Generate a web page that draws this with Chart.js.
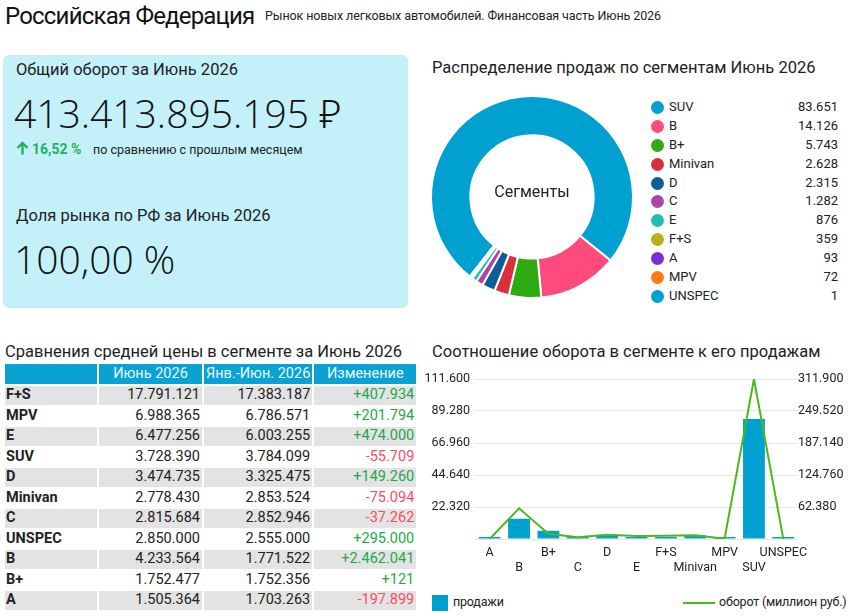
<!DOCTYPE html>
<html lang="ru">
<head>
<meta charset="utf-8">
<title>Российская Федерация — финансовая часть</title>
<script src="https://cdn.jsdelivr.net/npm/chart.js@4/dist/chart.umd.min.js"></script>
<style>
    html, body { margin: 0; padding: 0; background: #fff; }
    body { width: 850px; height: 616px; position: relative; overflow: hidden;
           font-family: Roboto, "Noto Sans", sans-serif; color: #222; }
    .abs { position: absolute; white-space: nowrap; }
    .h1 { left: 5px; top: 1px; font-size: 24px; line-height: 30px; color: #111; letter-spacing: -0.8px; }
    .sub { left: 265px; top: 7px; font-size: 12.5px; line-height: 18px; color: #222; letter-spacing: -0.1px; }
    .card { left: 3px; top: 55px; width: 405px; height: 253px; background: #c4f1f9; border-radius: 6px; }
    .ttl { font-size: 16.5px; line-height: 22px; color: #222; }
    .big { font-family: "Open Sans", "Noto Sans", sans-serif; font-size: 39px; font-weight: 300; line-height: 48px; color: #111; }
    .up { color: #1fb35a; font-weight: 700; font-size: 14px; }
    .cmp { font-size: 12.5px; color: #222; }
    #legend { left: 650px; top: 98px; width: 190px; }
    #legend .row { position: relative; height: 18.9px; font-size: 13px; line-height: 18.9px; }
    #legend .dot { position: absolute; left: 1px; top: 3px; width: 13px; height: 13px; border-radius: 50%; }
    #legend .lbl { position: absolute; left: 19px; }
    #legend .val { position: absolute; right: 2px; }
    table { border-collapse: separate; border-spacing: 2px 2px; font-size: 14.5px; }
    td, th { padding: 0 2px; }
    th { height: 20px; line-height: 20px; background: #0aa2d3; color: #e8fbff; font-weight: 400; text-align: center; }
    td { height: 18.5px; line-height: 18.5px; text-align: right; }
    td.seg { text-align: left; font-weight: 700; padding-left: 1px; }
    tr.odd td { background: #e3e3e3; }
    .pos { color: #1fa84b; }
    .neg { color: #ff4d63; }
    .lg { font-size: 12.5px; color: #222; letter-spacing: -0.2px; }
</style>
</head>
<body>
<div class="abs h1">Российская Федерация</div>
<div class="abs sub">Рынок новых легковых автомобилей. Финансовая часть Июнь 2026</div>

<div class="abs card"></div>
<div class="abs ttl" style="left:16px; top:59px;">Общий оборот за Июнь 2026</div>
<div class="abs big" style="left:14px; top:89px;">413.413.895.195 ₽</div>
<svg class="abs" style="left:16px; top:141px;" width="13" height="14" viewBox="0 0 13 14">
    <path d="M6.5 13.5 V2.5 M1.5 7 L6.5 2 L11.5 7" fill="none" stroke="#1fb35a" stroke-width="2.4"/>
</svg>
<div class="abs up" style="left:32px; top:139px; line-height:20px;">16,52 %</div>
<div class="abs cmp" style="left:93px; top:140px; line-height:20px;">по сравнению с прошлым месяцем</div>
<div class="abs ttl" style="left:16px; top:205px;">Доля рынка по РФ за Июнь 2026</div>
<div class="abs big" style="left:14px; top:235px;">100,00 %</div>

<div class="abs ttl" style="left:432px; top:57px;">Распределение продаж по сегментам Июнь 2026</div>
<div class="abs" style="left:417px; top:90px; width:230px; height:214px;"><canvas id="chart-donut"></canvas></div>
<div class="abs" id="legend"></div>

<div class="abs ttl" style="left:5px; top:341px;">Сравнения средней цены в сегменте за Июнь 2026</div>
<div class="abs" style="left:3px; top:362px;"><table id="prices"></table></div>

<div class="abs ttl" style="left:432px; top:341px;">Соотношение оборота в сегменте к его продажам</div>
<div class="abs" style="left:420px; top:365px; width:430px; height:215px;"><canvas id="chart-combo"></canvas></div>
<div class="abs" style="left:432px; top:595px; width:16px; height:16px; background:#00a0d0;"></div>
<div class="abs lg" style="left:453px; top:594px;">продажи</div>
<div class="abs" style="left:683px; top:602px; width:32px; height:2px; background:#4cb81c;"></div>
<div class="abs lg" style="left:719px; top:594px;">оборот (миллион руб.)</div>

<script>
(function () {
    'use strict';

    // Продажи по сегментам (порядок легенды кольца)
    const segments = ['SUV', 'B', 'B+', 'Minivan', 'D', 'C', 'E', 'F+S', 'A', 'MPV', 'UNSPEC'];
    const sales    = [83651, 14126, 5743, 2628, 2315, 1282, 876, 359, 93, 72, 1];
    const segColors = ['#00a0d0', '#fe4a7c', '#2eaa12', '#d8303a', '#0f5c96', '#ae45a6',
                       '#1fc0b0', '#b4b21c', '#7a30d0', '#ff7a12', '#00a0d0'];

    // Комбинированный график: продажи (шт.) и оборот (млн руб.)
    const comboCats     = ['A', 'B', 'B+', 'C', 'D', 'E', 'F+S', 'Minivan', 'MPV', 'SUV', 'UNSPEC'];
    const comboSales    = [93, 14126, 5743, 1282, 2315, 876, 359, 2628, 72, 83651, 1];
    const comboTurnover = [140, 59803, 10064, 3610, 8044, 5674, 6387, 7302, 503, 311884, 3];
    const leftMax = 111600, leftStep = 22320;
    const rightMax = 311900, rightStep = 62380;

    // Таблица средних цен
    const tableSegs   = ['F+S', 'MPV', 'E', 'SUV', 'D', 'Minivan', 'C', 'UNSPEC', 'B', 'B+', 'A'];
    const priceJun    = [17791121, 6988365, 6477256, 3728390, 3474735, 2778430, 2815684, 2850000, 4233564, 1752477, 1505364];
    const priceYtd    = [17383187, 6786571, 6003255, 3784099, 3325475, 2853524, 2852946, 2555000, 1771522, 1752356, 1703263];
    const priceChange = [407934, 201794, 474000, -55709, 149260, -75094, -37262, 295000, 2462041, 121, -197899];
    const tableHead   = ['', 'Июнь 2026', 'Янв.-Июн. 2026', 'Изменение'];

    function fmt(n) {
        return String(Math.abs(Math.round(n))).replace(/\B(?=(\d{3})+(?!\d))/g, '.');
    }

    const font = 'Roboto, "Noto Sans", sans-serif';
    Chart.defaults.font.family = font;
    Chart.defaults.color = '#333';

    // Легенда кольца
    const legend = document.getElementById('legend');
    segments.forEach(function (s, i) {
        const row = document.createElement('div');
        row.className = 'row';
        row.innerHTML = '<span class="dot" style="background:' + segColors[i] + '"></span>' +
            '<span class="lbl">' + s + '</span><span class="val">' + fmt(sales[i]) + '</span>';
        legend.appendChild(row);
    });

    // Таблица
    const table = document.getElementById('prices');
    const widths = [88, 99, 98, 98];
    let html = '<tr>' + tableHead.map(function (h, i) {
        return '<th style="width:' + widths[i] + 'px">' + h + '</th>';
    }).join('') + '</tr>';
    tableSegs.forEach(function (s, i) {
        const ch = priceChange[i];
        html += '<tr class="' + (i % 2 === 0 ? 'odd' : '') + '">' +
            '<td class="seg">' + s + '</td>' +
            '<td>' + fmt(priceJun[i]) + '</td>' +
            '<td>' + fmt(priceYtd[i]) + '</td>' +
            '<td class="' + (ch >= 0 ? 'pos' : 'neg') + '">' + (ch >= 0 ? '+' : '-') + fmt(ch) + '</td></tr>';
    });
    table.innerHTML = html;

    // Подпись в центре кольца
    const centerText = {
        id: 'centerText',
        afterDraw: function (chart) {
            const a = chart.chartArea;
            const ctx = chart.ctx;
            ctx.save();
            ctx.font = '16px ' + font;
            ctx.fillStyle = '#222';
            ctx.textAlign = 'center';
            ctx.textBaseline = 'middle';
            ctx.fillText('Сегменты', (a.left + a.right) / 2, (a.top + a.bottom) / 2 - 4);
            ctx.restore();
        }
    };

    new Chart(document.getElementById('chart-donut'), {
        type: 'doughnut',
        data: {
            labels: segments,
            datasets: [{ data: sales, backgroundColor: segColors, borderColor: '#fff', borderWidth: 2 }]
        },
        options: {
            responsive: true,
            maintainAspectRatio: false,
            animation: false,
            cutout: '61%',
            rotation: 218,
            layout: { padding: 5 },
            plugins: { legend: { display: false }, tooltip: { enabled: false } }
        },
        plugins: [centerText]
    });

    new Chart(document.getElementById('chart-combo'), {
        data: {
            labels: comboCats,
            datasets: [
                {
                    type: 'line',
                    label: 'оборот (миллион руб.)',
                    data: comboTurnover,
                    yAxisID: 'y1',
                    borderColor: '#4cb81c',
                    borderWidth: 2,
                    pointRadius: 0,
                    tension: 0
                },
                {
                    type: 'bar',
                    label: 'продажи',
                    data: comboSales,
                    yAxisID: 'y',
                    backgroundColor: '#00a0d0',
                    categoryPercentage: 0.8,
                    barPercentage: 0.93,
                    minBarLength: 2
                }
            ]
        },
        options: {
            responsive: true,
            maintainAspectRatio: false,
            animation: false,
            layout: { padding: { top: 14, left: 0, right: 0, bottom: 0 } },
            plugins: { legend: { display: false }, tooltip: { enabled: false } },
            scales: {
                x: {
                    grid: { display: false, drawTicks: false },
                    border: { display: false },
                    ticks: {
                        autoSkip: false, maxRotation: 0, padding: 6,
                        font: { size: 12.5 }, color: '#222',
                        callback: function (v, i) { return i % 2 ? ['', comboCats[i]] : comboCats[i]; }
                    },
                    afterFit: function (s) { s.height = 41; }
                },
                y: {
                    position: 'left', min: 0, max: leftMax,
                    grid: { color: '#e8e8e8', drawTicks: false },
                    border: { display: false },
                    ticks: {
                        stepSize: leftStep, padding: 5, font: { size: 12.5 }, color: '#222',
                        callback: function (v) { return v === 0 ? '' : fmt(v); }
                    },
                    afterFit: function (s) { s.width = 55; }
                },
                y1: {
                    position: 'right', min: 0, max: rightMax,
                    grid: { display: false, drawTicks: false },
                    border: { display: false },
                    ticks: {
                        stepSize: rightStep, padding: 0, font: { size: 12.5 }, color: '#222',
                        callback: function (v) { return v === 0 ? '' : fmt(v); }
                    },
                    afterFit: function (s) { s.width = 52; }
                }
            }
        }
    });
})();
</script>
</body>
</html>
